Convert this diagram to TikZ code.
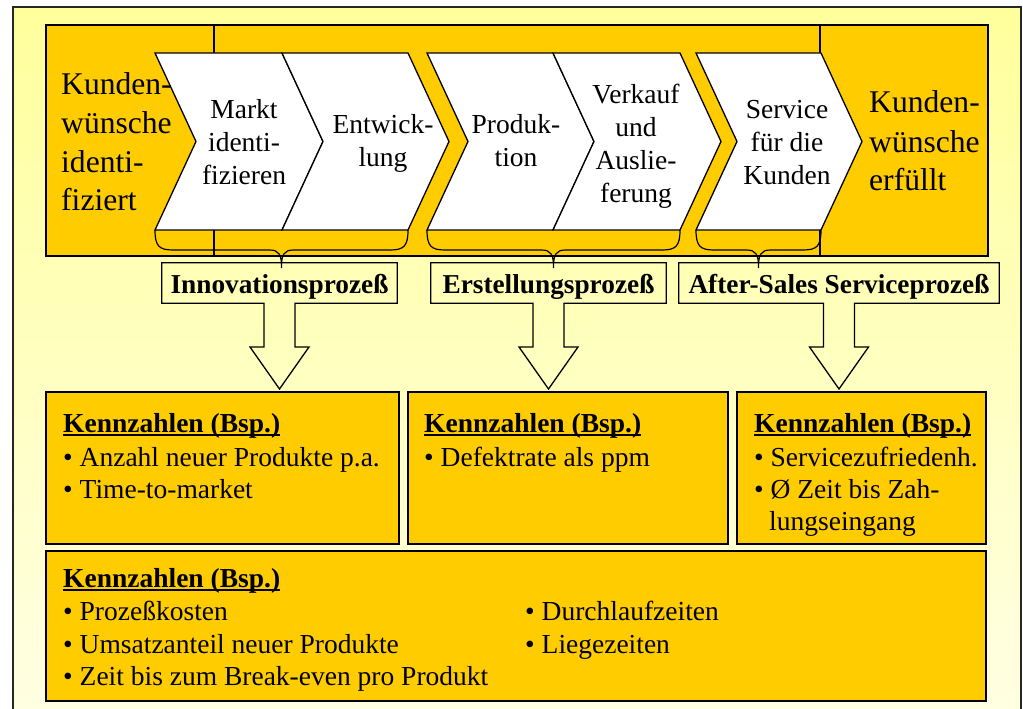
\documentclass[tikz,border=0pt]{standalone}
\usepackage{fontspec}
\setmainfont{Liberation Serif}
\usetikzlibrary{calc}
\definecolor{band}{HTML}{FFCC00}
\definecolor{paletop}{HTML}{FFFF9C}
\definecolor{palebot}{HTML}{FFFFE4}
% bold heading with a thick underline
\newcommand\kzhead[1]{\setbox0\hbox{\bfseries #1}\rlap{\rule[-3.5pt]{\wd0}{2pt}}\box0}
\tikzset{
  outline/.style={draw=black, line width=1.3pt, line join=miter},
  bandbox/.style={outline, fill=band},
  chev/.style={outline, fill=white},
  kbox/.style={outline, fill=band, inner sep=0pt, outer sep=0pt, anchor=north west},
  lbl/.style={inner xsep=0pt, inner ysep=0pt, text height=30pt, text depth=10pt,
              anchor=base, font=\fontsize{27.3}{33}\selectfont\bfseries},
  txt/.style={inner sep=0pt, anchor=base west, font=\fontsize{27.5}{33}\selectfont},
  ctr/.style={txt, anchor=base},
  side/.style={inner sep=0pt, anchor=base west, font=\fontsize{31.6}{38}\selectfont},
}
\begin{document}
\begin{tikzpicture}[x=1pt,y=-1pt]
\useasboundingbox (0,0) rectangle (1023,709);
\fill[white] (0,0) rectangle (1023,709);
% outer frame
\draw[line width=1.4pt, draw=black!85, top color=paletop, bottom color=palebot]
  (13,7) rectangle (1021,725);

% process band
\draw[bandbox] (46,25) rectangle (988,256);
\draw[outline] (214,25) -- (214,53) (214,230) -- (214,256);
\draw[outline] (820,25) -- (820,53) (820,230) -- (820,256);

% chevrons
\foreach \L/\R in {155/282,282/408,427/553,553/680,696/821}
  \draw[chev] (\L,53) -- (\R,53) -- (\R+41,141.5) -- (\R,230) -- (\L,230) -- (\L+41,141.5) -- cycle;

% braces under the chevron groups
\foreach \a/\b in {155/408,427/680,696/821}{
  \pgfmathsetmacro\c{(\a+\b)/2}
  \draw[outline, line width=1.2pt]
    (\a,230) .. controls (\a,246) and (\a+4,250) .. (\a+18,250) -- (\c-12,250)
    .. controls (\c-2,250) and (\c,255) .. (\c,268)
    .. controls (\c,255) and (\c+2,250) .. (\c+12,250) -- (\b-18,250)
    .. controls (\b-4,250) and (\b,246) .. (\b,230);
}

% side texts
\node[side] (lt1) at (61,95) {Kunden-};
\node[side] (lt2) at (61,133) {wünsche};
\node[side] (lt3) at (61,172) {identi-};
\node[side] (lt4) at (61,210) {fiziert};
\node[side] (rt1) at (869,113) {Kunden-};
\node[side] (rt2) at (869,152) {wünsche};
\node[side] (rt3) at (869,190) {erfüllt};

% chevron texts
\node[ctr] (m1) at (244,118) {Markt};
\node[ctr] (m2) at (244,151) {identi-};
\node[ctr] (m3) at (244,184) {fizieren};
\node[ctr] (e1) at (383,133) {Entwick-};
\node[ctr] (e2) at (383,166) {lung};
\node[ctr] (p1t) at (516,133) {Produk-};
\node[ctr] (p2t) at (516,166) {tion};
\node[ctr] (v1) at (636,103) {Verkauf};
\node[ctr] (v2) at (636,136) {und};
\node[ctr] (v3) at (636,169) {Auslie-};
\node[ctr] (v4) at (636,202) {ferung};
\node[ctr] (s1) at (787,118) {Service};
\node[ctr] (s2) at (787,151) {für die};
\node[ctr] (s3) at (787,184) {Kunden};

% key figure boxes
\node[kbox, minimum width=353pt, minimum height=152pt] (k1) at (46,392) {};
\node[kbox, minimum width=320pt, minimum height=152pt] (k2) at (408,392) {};
\node[kbox, minimum width=249pt, minimum height=152pt] (k3) at (737,392) {};
\node[kbox, minimum width=940pt, minimum height=150pt] (k4) at (46,551) {};

% process labels
\node[lbl, minimum width=235pt] (p1) at (279.5,293) {Innovationsprozeß};
\node[lbl, minimum width=235pt] (p2) at (548.5,293) {Erstellungsprozeß};
\node[lbl, minimum width=320pt] (p3) at (839,293) {After-Sales Serviceprozeß};

% label frames merged with block arrows
\foreach \p/\k in {p1/k1,p2/k2,p3/k3}
  \draw[outline]
    (\p.south west) -- (\p.north west) -- (\p.north east) -- (\p.south east)
    -- ($(\p.south)+(15.5,0)$) |- ($(\p.south |- \k.north)+(29.5,-45)$)
    -- ($(\p.south |- \k.north)+(0,-3)$)
    -- ($(\p.south |- \k.north)+(-29.5,-45)$) -| ($(\p.south)+(-15.5,0)$)
    -- cycle;

% key figure texts
\node[txt] (k1h) at (63,432) {\kzhead{Kennzahlen (Bsp.)}};
\node[txt] (k1a) at (63,466) {• Anzahl neuer Produkte p.a.};
\node[txt] (k1b) at (63,498) {• Time-to-market};

\node[txt] (k2h) at (424,432) {\kzhead{Kennzahlen (Bsp.)}};
\node[txt] (k2a) at (424,466) {• Defektrate als ppm};

\node[txt] (k3h) at (754,432) {\kzhead{Kennzahlen (Bsp.)}};
\node[txt] (k3a) at (754,466) {• Servicezufriedenh.};
\node[txt] (k3b) at (754,498) {• Ø Zeit bis Zah-};
\node[txt] (k3c) at (769,530) {lungseingang};

\node[txt] (k4h) at (63,587) {\kzhead{Kennzahlen (Bsp.)}};
\node[txt] (k4a) at (63,620) {• Prozeßkosten};
\node[txt] (k4b) at (63,653) {• Umsatzanteil neuer Produkte};
\node[txt] (k4c) at (63,685) {• Zeit bis zum Break-even pro Produkt};
\node[txt] (k4d) at (525,620) {• Durchlaufzeiten};
\node[txt] (k4e) at (525,653) {• Liegezeiten};
\end{tikzpicture}
\end{document}
